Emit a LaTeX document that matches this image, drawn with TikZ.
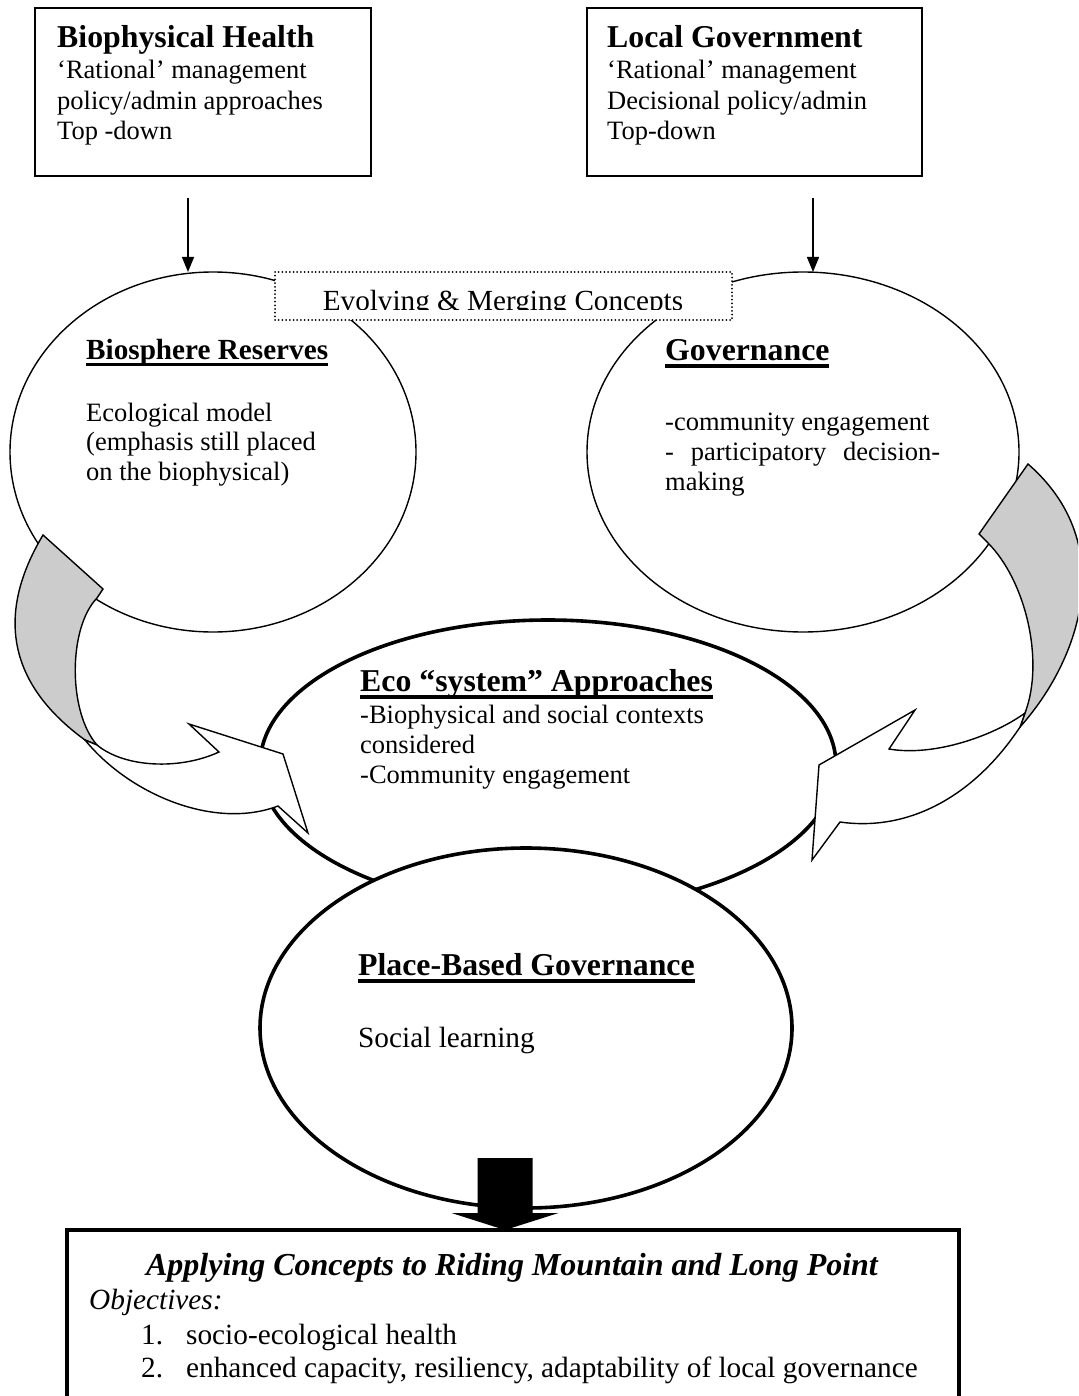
\documentclass[tikz,border=0pt]{standalone}
\usepackage{fontspec}
\setmainfont{Liberation Serif}
\usetikzlibrary{shapes.geometric, arrows.meta}

\newcommand{\bodyfont}{\fontsize{26.5}{29.8}\selectfont}
\newcommand{\bigbody}{\fontsize{29.3}{33}\selectfont}
\newcommand{\headfont}{\fontsize{31.8}{34}\selectfont\bfseries}
\newcommand{\undl}[1]{\setbox0=\hbox{#1}\rlap{\rule[-0.24em]{\wd0}{0.1em}}\box0}

\begin{document}
\begin{tikzpicture}[x=1pt, y=-1pt,
    bubble/.style={ellipse, draw, fill=white, line width=1.4pt, inner sep=0pt, outer sep=0pt},
    fatbubble/.style={bubble, line width=3.6pt},
    topbox/.style={rectangle, draw, fill=white, line width=1.6pt, inner sep=0pt, outer sep=0pt, anchor=north west},
    dotbox/.style={rectangle, draw, fill=white, line width=2pt, dash pattern=on 0pt off 3.7pt, line cap=round, inner sep=0pt, outer sep=0pt},
    txt/.style={inner sep=0pt, anchor=base west, align=left, font=\bodyfont},
    arr/.style={line width=1.3pt, -{Triangle[length=15pt,width=12pt]}},
    twist/.style={draw, line width=1.4pt, line join=miter}]

    \useasboundingbox (0,0) rectangle (1078,1396);
    \clip (0,0) rectangle (1078,1396);

    % upper boxes (base anchor = last line)
    \node[topbox, minimum width=336, minimum height=168] (bio) at (35,8) {};
    \node[topbox, minimum width=335, minimum height=168] (loc) at (587,8) {};
    \node[txt, font=\fontsize{26.5}{30.7}\selectfont] (biot) at (57,140) {{\headfont Biophysical Health}\\`Rational' management\\policy/admin approaches\\Top -down};
    \node[txt, font=\fontsize{26.5}{30.7}\selectfont] (loct) at (607,140) {{\headfont Local Government}\\`Rational' management\\Decisional policy/admin\\Top-down};

    % concepts
    \node[bubble, minimum width=406, minimum height=360] (bres) at (213,452) {};
    \node[bubble, minimum width=432, minimum height=360] (gvn) at (803,452) {};
    \node[fatbubble, minimum width=576, minimum height=290] (eco) at (548,765) {};
    \node[fatbubble, minimum width=532, minimum height=360] (pbg) at (526,1028) {};

    \coordinate (a1) at (188,198);
    \coordinate (a2) at (813,198);
    \draw[arr] (a1) -- (a1 |- bres.north);
    \draw[arr] (a2) -- (a2 |- gvn.north);

    % twisted arrows
    \filldraw[twist, fill=gray!40] (43,535) -- (103,589) -- (97,598) .. controls (68,628) and (68,712) .. (97,745) -- (85,740) .. controls (-14,668) and (12,587) .. (43,535) -- cycle;
    \filldraw[twist, fill=white] (85,740) .. controls (130,795) and (215,830) .. (278,806) -- (308,833) -- (283,754) -- (189,724) -- (219,752) .. controls (180,770) and (125,768) .. (97,745) -- cycle;
    \filldraw[twist, fill=gray!40] (1028,464) -- (979,534) -- (988,543) .. controls (1025,580) and (1045,660) .. (1025,713) -- (1020,727) .. controls (1080,660) and (1120,544) .. (1028,464) -- cycle;
    \filldraw[twist, fill=white] (1020,727) .. controls (975,795) and (910,832) .. (840,822) -- (812,860) -- (819,765) -- (915,710) -- (889,749) .. controls (935,757) and (995,735) .. (1025,713) -- cycle;

    \node[dotbox, minimum width=457, minimum height=48] (evo) at (503.5,296) {};
    \begin{scope}
        \clip (276,273) rectangle (731,309.5);
        \node[inner sep=0pt, anchor=base, font=\fontsize{29.2}{32}\selectfont] (evot) at (503,310) {Evolving \& Merging Concepts};
    \end{scope}

    \node[txt, font=\fontsize{29.2}{32}\selectfont\bfseries] (brest) at (86,359) {\undl{Biosphere Reserves}};
    \node[txt] (bresb) at (86,480.6) {Ecological model\\(emphasis still placed\\on the biophysical)};
    \node[txt, font=\headfont] (gvnt) at (665,360) {\undl{Governance}};
    \node[txt, font=\fontsize{26.5}{30}\selectfont] (gvnb) at (665,490) {-community engagement\\\makebox[275pt][s]{- participatory decision-}\\making};
    \node[txt, font=\headfont] (ecot) at (360,691) {\undl{Eco ``system'' Approaches}};
    \node[txt, font=\fontsize{26.5}{30}\selectfont] (ecob) at (360,783) {-Biophysical and social contexts\\considered\\-Community engagement};
    \node[txt, font=\headfont] (pbgt) at (358,975) {\undl{Place-Based Governance}};
    \node[txt, font=\bigbody] (pbgb) at (358,1047) {Social learning};

    % applying
    \node[topbox, line width=4.5pt, minimum width=892, minimum height=200] (apply) at (67,1230) {};
    \coordinate (dn) at (505,1158);
    \fill (dn) ++(-27.5,0) -- ++(55,0) -- ++(0,55) -- ++(26,0) -- (dn |- apply.north) -- ++(-53.5,-17) -- ++(26,0) -- cycle;
    \node[inner sep=0pt, anchor=base, font=\fontsize{32}{35}\selectfont\bfseries\itshape] (applyt) at (512,1275) {Applying Concepts to Riding Mountain and Long Point};
    \node[txt, font=\bigbody\itshape] (objt) at (89,1309) {Objectives:};
    \node[txt, font=\bigbody] (objl) at (141,1377) {\makebox[45pt][l]{1.}socio-ecological health\\\makebox[45pt][l]{2.}enhanced capacity, resiliency, adaptability of local governance};
\end{tikzpicture}
\end{document}
